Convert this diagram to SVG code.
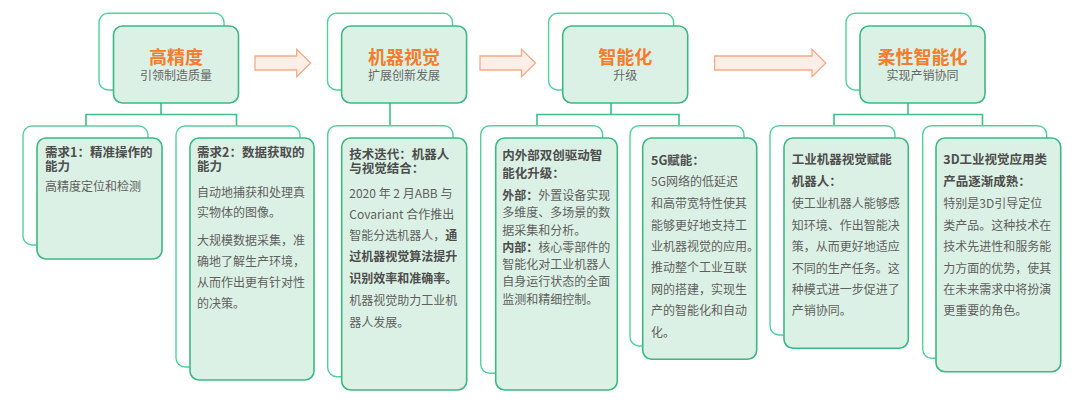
<svg xmlns="http://www.w3.org/2000/svg" width="1080" height="411" viewBox="0 0 1080 411">
<style>
.bk{fill:#ffffff;stroke:#52d29b;stroke-width:1.4}
.fr{fill:#dcf1e5;stroke:#3cb882;stroke-width:1.6}
.ln{fill:none;stroke:#3dbf86;stroke-width:1.6}
.ar{fill:#fdefe7;stroke:#f7aa84;stroke-width:1.3}
text{font-family:"Noto Sans CJK SC","Noto Sans",sans-serif}
.ht{font-size:18px;font-weight:bold;fill:#f47c2c;text-anchor:middle}
.hs{font-size:12px;fill:#666666;text-anchor:middle}
.ct{font-size:12.5px;font-weight:bold;fill:#4d4d4d}
.cb{font-size:12px;fill:#5f5f5f}
.b{font-weight:bold;fill:#4d4d4d}
</style>
<rect width="1080" height="411" fill="#ffffff"/>
<g id="connectors">
<path class="ln" d="M161 103V114.5M86 126V114.5H236.5V126"/>
<path class="ln" d="M390 103V126"/>
<path class="ln" d="M611 103V114.5M537 126V114.5H679V126"/>
<path class="ln" d="M908 103V114.5M834 126V114.5H982.5V126"/>
</g>
<g id="arrows">
<path class="ar" d="M255 56H296.7V49.3L310.7 63L296.7 76.7V70H255Z"/>
<path class="ar" d="M480 56H521.5V49.3L535.5 63L521.5 76.7V70H480Z"/>
<path class="ar" d="M714.6 56H812V49.3L825.8 63L812 76.7V70H714.6Z"/>
</g>
<g id="h1">
<rect class="bk" x="99" y="13.3" width="125" height="76.7" rx="9"/>
<rect class="fr" x="113.5" y="26" width="125" height="77" rx="9"/>
<text class="ht" x="176" y="64">高精度</text>
<text class="hs" x="176" y="79.6">引领制造质量</text>
</g>
<g id="h2">
<rect class="bk" x="327.5" y="13.3" width="125" height="76.7" rx="9"/>
<rect class="fr" x="341.6" y="26" width="125" height="77" rx="9"/>
<text class="ht" x="404" y="64">机器视觉</text>
<text class="hs" x="404" y="79.6">扩展创新发展</text>
</g>
<g id="h3">
<rect class="bk" x="548.6" y="13.3" width="125" height="76.7" rx="9"/>
<rect class="fr" x="562.7" y="26" width="125" height="77" rx="9"/>
<text class="ht" x="625.2" y="64">智能化</text>
<text class="hs" x="625.2" y="79.6">升级</text>
</g>
<g id="h4">
<rect class="bk" x="846" y="13.3" width="125" height="76.7" rx="9"/>
<rect class="fr" x="860" y="26" width="125" height="77" rx="9"/>
<text class="ht" x="922.5" y="64">柔性智能化</text>
<text class="hs" x="922.5" y="79.6">实现产销协同</text>
</g>
<g id="c1a">
<rect class="bk" x="23" y="126" width="125" height="119" rx="9"/>
<rect class="fr" x="37" y="138" width="125" height="121" rx="9"/>
<text class="ct" x="45" y="156.7">需求1：精准操作的</text>
<text class="ct" x="45" y="170.7">能力</text>
<text class="cb" x="45" y="190.6">高精度定位和检测</text>
</g>
<g id="c1b">
<rect class="bk" x="176" y="126" width="124" height="241" rx="9"/>
<rect class="fr" x="190" y="138" width="124" height="242" rx="9"/>
<text class="ct" x="197" y="156.7">需求2：数据获取的</text>
<text class="ct" x="197" y="170.7">能力</text>
<text class="cb" x="197" y="196.6">自动地捕获和处理真</text>
<text class="cb" x="197" y="216.6">实物体的图像。</text>
<text class="cb" x="197" y="244.6">大规模数据采集，准</text>
<text class="cb" x="197" y="265.6">确地了解生产环境，</text>
<text class="cb" x="197" y="286.6">从而作出更有针对性</text>
<text class="cb" x="197" y="307.6">的决策。</text>
</g>
<g id="c2">
<rect class="bk" x="327.7" y="125.7" width="125.3" height="251" rx="9"/>
<rect class="fr" x="341.7" y="138" width="125" height="252" rx="9"/>
<text class="ct" x="349.3" y="159">技术迭代：机器人</text>
<text class="ct" x="349.3" y="173">与视觉结合：</text>
<text class="cb" x="349.3" y="197.9">2020 年 2 月ABB 与</text>
<text class="cb" x="349.3" y="218.9">Covariant 合作推出</text>
<text class="cb" x="349.3" y="240.3">智能分选机器人，<tspan class="b">通</tspan></text>
<text class="cb b" x="349.3" y="261.3">过机器视觉算法提升</text>
<text class="cb b" x="349.3" y="282.9">识别效率和准确率。</text>
<text class="cb" x="349.3" y="304.6">机器视觉助力工业机</text>
<text class="cb" x="349.3" y="326.9">器人发展。</text>
</g>
<g id="c3a">
<rect class="bk" x="480.7" y="125.7" width="122" height="247.6" rx="9"/>
<rect class="fr" x="495.7" y="138" width="121.6" height="252" rx="9"/>
<text class="ct" x="502.3" y="159.7">内外部双创驱动智</text>
<text class="ct" x="502.3" y="178">能化升级：</text>
<text class="cb" x="502.3" y="200.3"><tspan class="b">外部：</tspan>外置设备实现</text>
<text class="cb" x="502.3" y="217.3">多维度、多场景的数</text>
<text class="cb" x="502.3" y="234.6">据采集和分析。</text>
<text class="cb" x="502.3" y="252.3"><tspan class="b">内部：</tspan>核心零部件的</text>
<text class="cb" x="502.3" y="268.9">智能化对工业机器人</text>
<text class="cb" x="502.3" y="286.3">自身运行状态的全面</text>
<text class="cb" x="502.3" y="303.6">监测和精细控制。</text>
</g>
<g id="c3b">
<rect class="bk" x="630" y="125.7" width="114" height="220.3" rx="9"/>
<rect class="fr" x="642.7" y="138" width="114" height="221.3" rx="9"/>
<text class="ct" x="651" y="164.6">5G赋能：</text>
<text class="cb" x="651" y="185.6">5G网络的低延迟</text>
<text class="cb" x="651" y="207.9">和高带宽特性使其</text>
<text class="cb" x="651" y="229.6">能够更好地支持工</text>
<text class="cb" x="651" y="250.6">业机器视觉的应用。</text>
<text class="cb" x="651" y="272.3">推动整个工业互联</text>
<text class="cb" x="651" y="293.6">网的搭建，实现生</text>
<text class="cb" x="651" y="315.3">产的智能化和自动</text>
<text class="cb" x="651" y="336.9">化。</text>
</g>
<g id="c4a">
<rect class="bk" x="770" y="125.7" width="125" height="209.3" rx="9"/>
<rect class="fr" x="784" y="138" width="124.3" height="210.3" rx="9"/>
<text class="ct" x="791.7" y="163.9">工业机器视觉赋能</text>
<text class="ct" x="791.7" y="186.3">机器人：</text>
<text class="cb" x="791.7" y="207.9">使工业机器人能够感</text>
<text class="cb" x="791.7" y="229.6">知环境、作出智能决</text>
<text class="cb" x="791.7" y="251.3">策，从而更好地适应</text>
<text class="cb" x="791.7" y="272.9">不同的生产任务。这</text>
<text class="cb" x="791.7" y="293.9">种模式进一步促进了</text>
<text class="cb" x="791.7" y="315.3">产销协同。</text>
</g>
<g id="c4b">
<rect class="bk" x="922.7" y="125.7" width="124" height="232.6" rx="9"/>
<rect class="fr" x="936" y="138" width="124.7" height="233.7" rx="9"/>
<text class="ct" x="943.3" y="163.9">3D工业视觉应用类</text>
<text class="ct" x="943.3" y="186.3">产品逐渐成熟：</text>
<text class="cb" x="943.3" y="207.9">特别是3D引导定位</text>
<text class="cb" x="943.3" y="229.6">类产品。这种技术在</text>
<text class="cb" x="943.3" y="251.3">技术先进性和服务能</text>
<text class="cb" x="943.3" y="272.9">力方面的优势，使其</text>
<text class="cb" x="943.3" y="293.9">在未来需求中将扮演</text>
<text class="cb" x="943.3" y="315.3">更重要的角色。</text>
</g>
</svg>
